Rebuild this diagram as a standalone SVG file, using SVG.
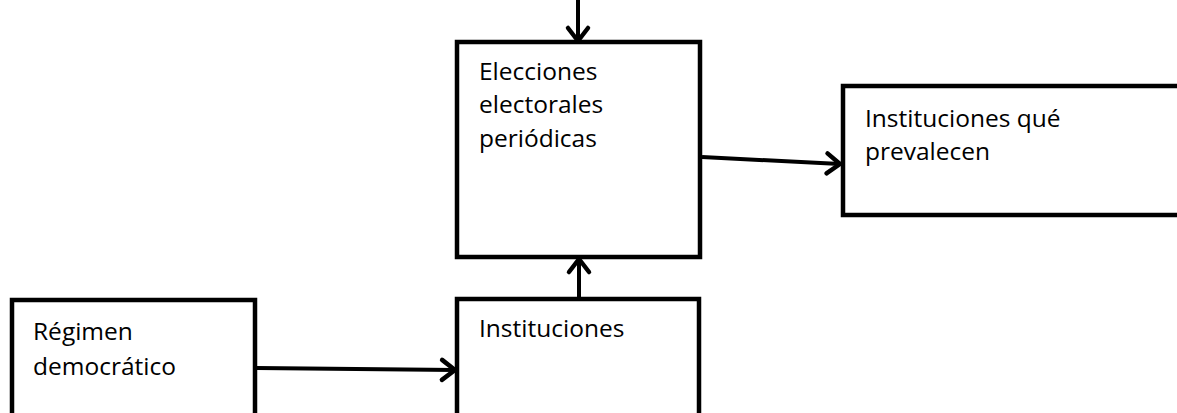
<svg xmlns="http://www.w3.org/2000/svg" width="1177" height="413" viewBox="0 0 1177 413">
<style>
.box{fill:#fff;stroke:#000;stroke-width:4.5}
.t{font-family:"Open Sans","Liberation Sans",sans-serif;font-size:24.5px;fill:#000}
.c{stroke:#000;stroke-width:4;fill:none}
</style>
<defs>
<marker id="ah" markerUnits="userSpaceOnUse" markerWidth="30" markerHeight="30" viewBox="-20 -15 30 30" refX="0" refY="0" orient="auto" overflow="visible">
<path d="M-13,-10 L0,0 L-13,10" fill="none" stroke="#000" stroke-width="4.5" stroke-linecap="round" stroke-linejoin="round"/>
</marker>
</defs>
<g id="n1"><rect class="box" x="457" y="42" width="243" height="215"/>
<text class="t" x="479" y="80">Elecciones</text>
<text class="t" x="479" y="113">electorales</text>
<text class="t" x="479" y="147">periódicas</text></g>
<g id="n2"><rect class="box" x="843" y="86" width="340" height="129"/>
<text class="t" x="865" y="127">Instituciones qué</text>
<text class="t" x="865" y="160">prevalecen</text></g>
<g id="n3"><rect class="box" x="12" y="300" width="243" height="120"/>
<text class="t" x="33" y="340">Régimen</text>
<text class="t" x="33" y="375">democrático</text></g>
<g id="n4"><rect class="box" x="457" y="299" width="242" height="120"/>
<text class="t" x="479" y="337">Instituciones</text></g>
<g id="connectors">
<line class="c" x1="578" y1="0" x2="578" y2="41" marker-end="url(#ah)"/>
<line class="c" x1="702" y1="157" x2="840" y2="164" marker-end="url(#ah)"/>
<line class="c" x1="257" y1="368" x2="455" y2="370" marker-end="url(#ah)"/>
<line class="c" x1="579" y1="297" x2="579" y2="259" marker-end="url(#ah)"/>
</g>
</svg>
